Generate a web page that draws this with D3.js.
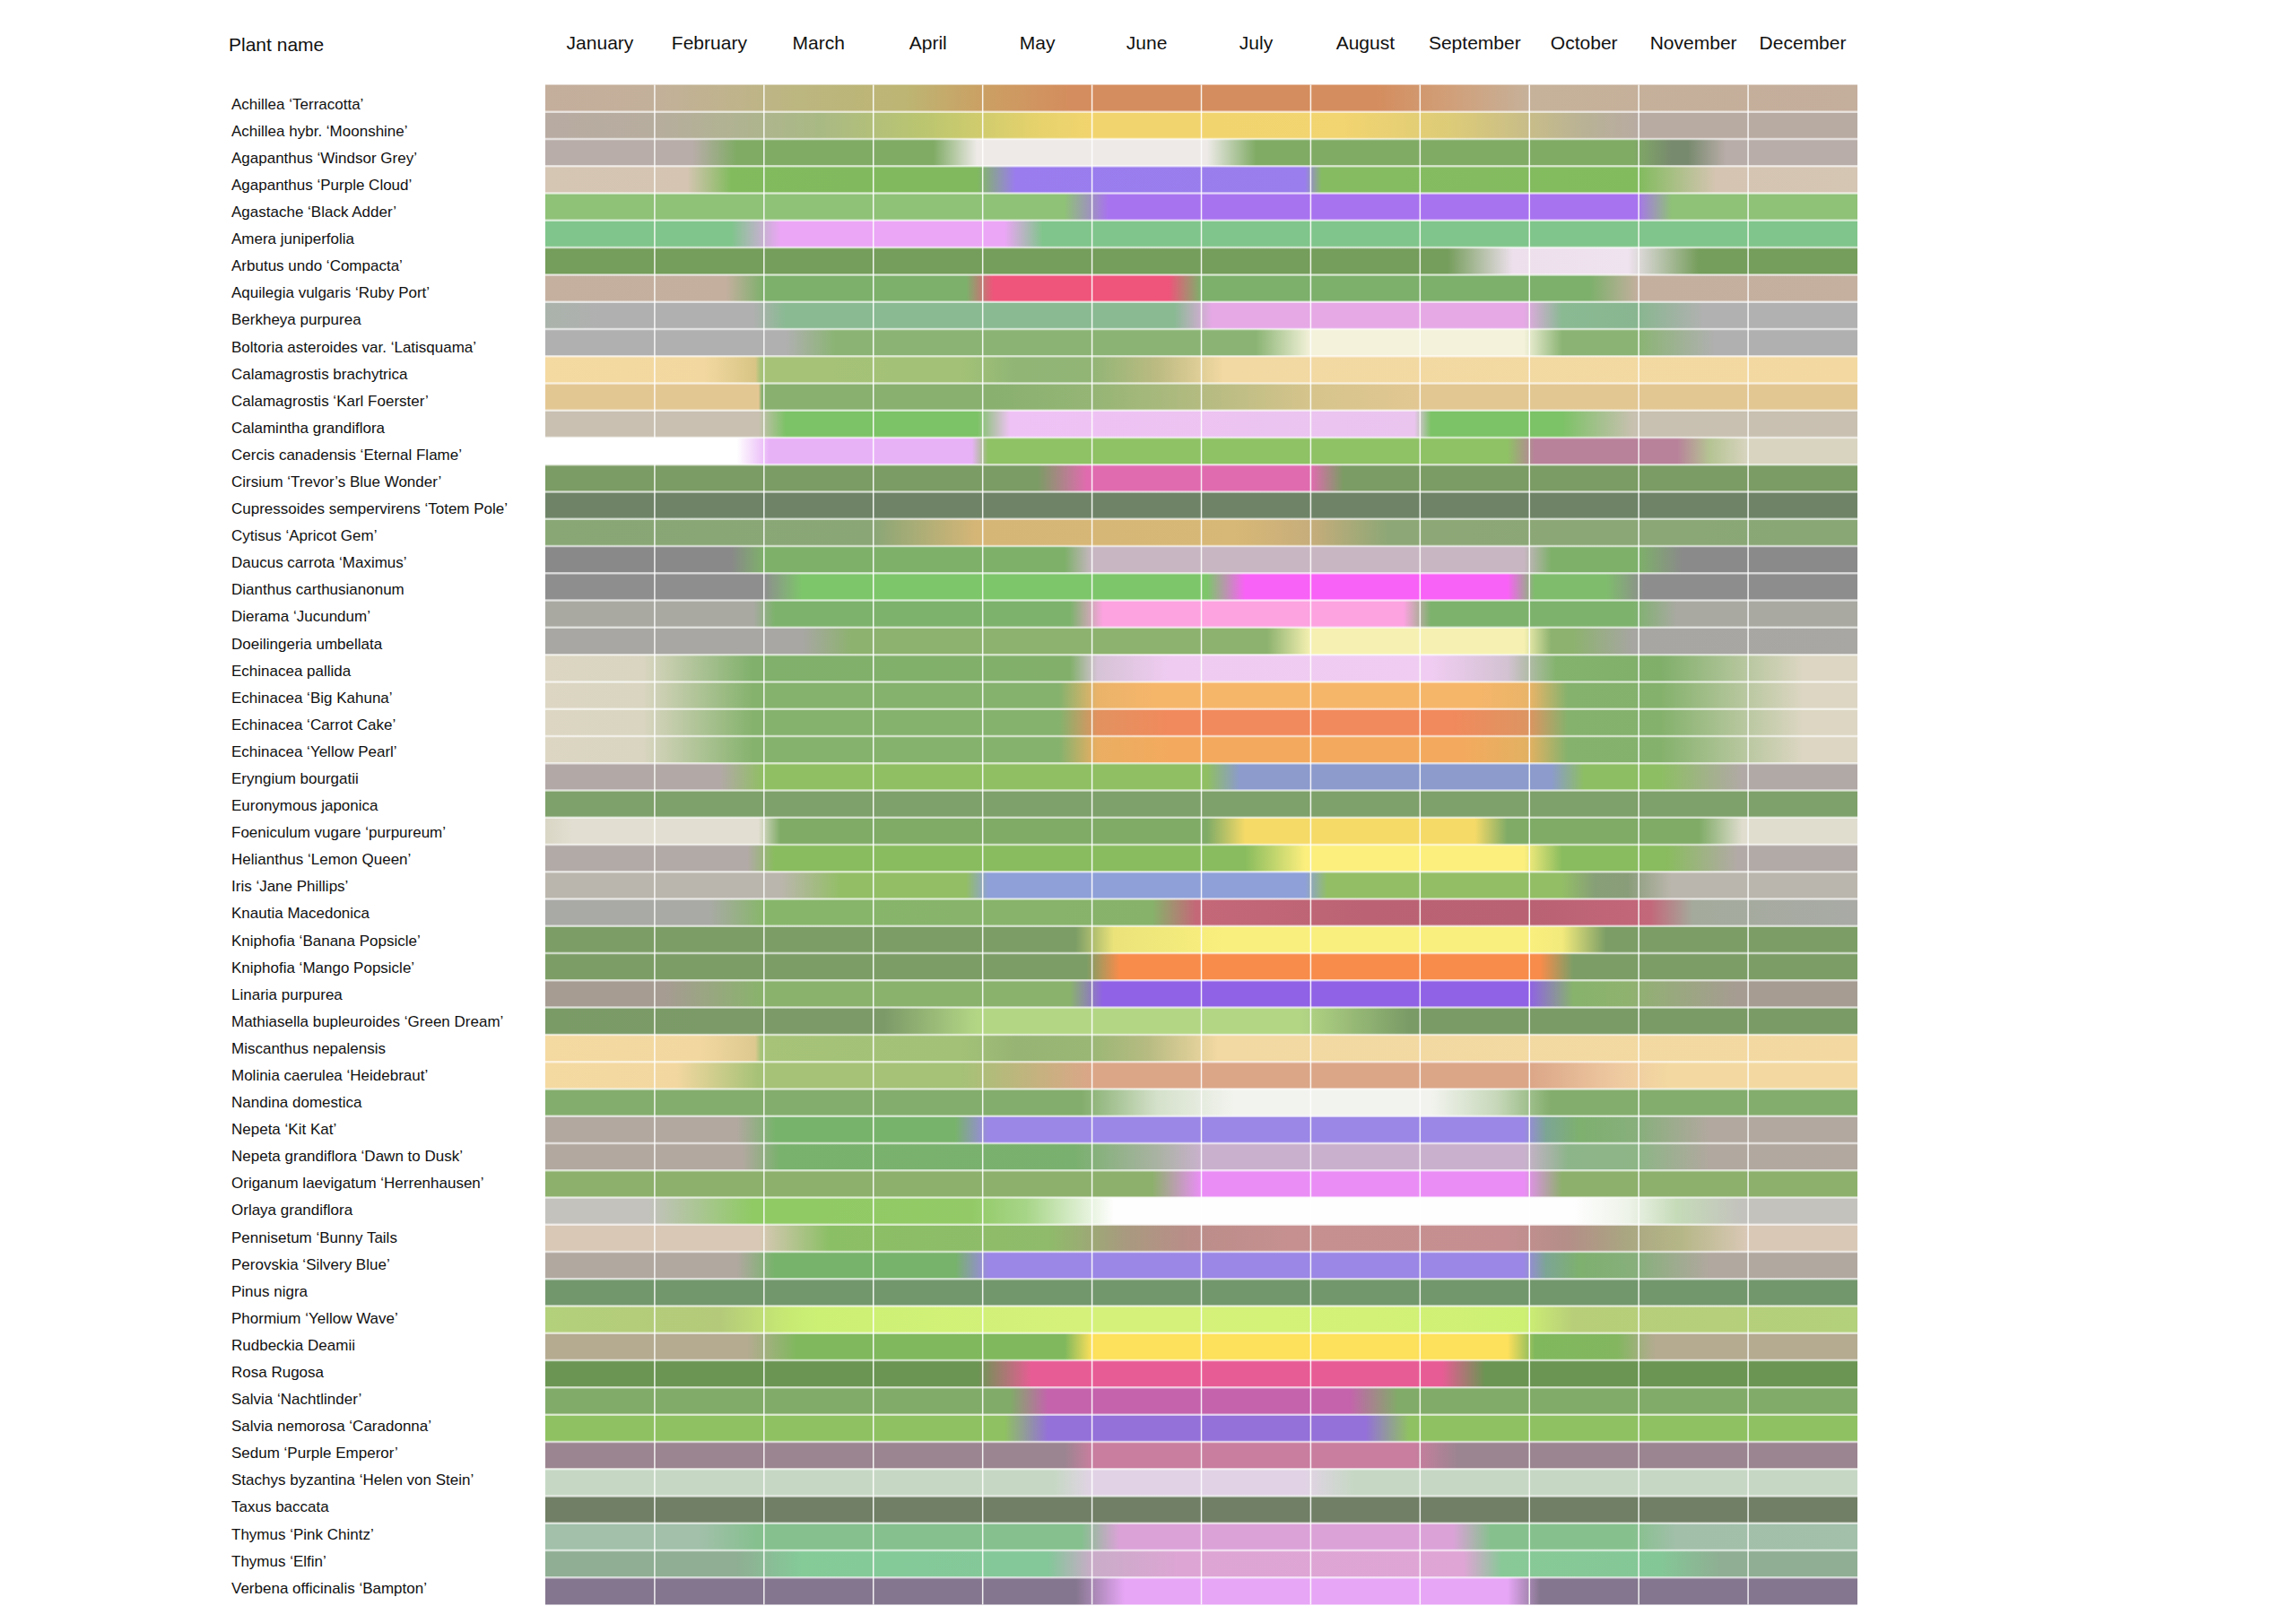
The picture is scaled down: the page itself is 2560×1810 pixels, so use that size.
<!DOCTYPE html>
<html>
<head>
<meta charset="utf-8">
<script src="https://cdn.jsdelivr.net/npm/d3@7"></script>
<style>
  body { margin: 0; background: #fff; }
  text { font-family: "Liberation Sans", Arial, sans-serif; fill: #111; }
</style>
</head>
<body>
<div id="chart"></div>
<script>
// month tick labels
var months = ["January", "February", "March", "April", "May", "June", "July",
  "August", "September", "October", "November", "December"];

// one row per plant
var plants = [
  "Achillea ‘Terracotta’", "Achillea hybr. ‘Moonshine’", "Agapanthus ‘Windsor Grey’",
  "Agapanthus ‘Purple Cloud’", "Agastache ‘Black Adder’", "Amera juniperfolia",
  "Arbutus undo ‘Compacta’", "Aquilegia vulgaris ‘Ruby Port’", "Berkheya purpurea",
  "Boltoria asteroides var. ‘Latisquama’", "Calamagrostis brachytrica", "Calamagrostis ‘Karl Foerster’",
  "Calamintha grandiflora", "Cercis canadensis ‘Eternal Flame’", "Cirsium ‘Trevor’s Blue Wonder’",
  "Cupressoides sempervirens ‘Totem Pole’", "Cytisus ‘Apricot Gem’", "Daucus carrota ‘Maximus’",
  "Dianthus carthusianonum", "Dierama ‘Jucundum’", "Doeilingeria umbellata",
  "Echinacea pallida", "Echinacea ‘Big Kahuna’", "Echinacea ‘Carrot Cake’",
  "Echinacea ‘Yellow Pearl’", "Eryngium bourgatii", "Euronymous japonica",
  "Foeniculum vugare ‘purpureum’", "Helianthus ‘Lemon Queen’", "Iris ‘Jane Phillips’",
  "Knautia Macedonica", "Kniphofia ‘Banana Popsicle’", "Kniphofia ‘Mango Popsicle’",
  "Linaria purpurea", "Mathiasella bupleuroides ‘Green Dream’", "Miscanthus nepalensis",
  "Molinia caerulea ‘Heidebraut’", "Nandina domestica", "Nepeta ‘Kit Kat’",
  "Nepeta grandiflora ‘Dawn to Dusk’", "Origanum laevigatum ‘Herrenhausen’", "Orlaya grandiflora",
  "Pennisetum ‘Bunny Tails", "Perovskia ‘Silvery Blue’", "Pinus nigra",
  "Phormium ‘Yellow Wave’", "Rudbeckia Deamii", "Rosa Rugosa",
  "Salvia ‘Nachtlinder’", "Salvia nemorosa ‘Caradonna’", "Sedum ‘Purple Emperor’",
  "Stachys byzantina ‘Helen von Stein’", "Taxus baccata", "Thymus ‘Pink Chintz’",
  "Thymus ‘Elfin’", "Verbena officinalis ‘Bampton’"
];

// colour through the year: [month position (0 = 1 Jan, 12 = 31 Dec), colour]
var seasonStops = [
  [[0,"#c4ae9c"],[1.0,"#c3b09a"],[2.3,"#bcb680"],[3.3,"#bdb573"],[4.0,"#cba064"],[4.8,"#d48d5e"],[7.6,"#d48d5e"],[8.3,"#d0a07a"],[9.0,"#c6b19a"],[12,"#c4ae9c"]],
  [[0,"#b8aba2"],[1.0,"#b7ad9e"],[2.5,"#a9b984"],[3.5,"#bcc66f"],[4.5,"#e6d26c"],[5.0,"#f2d46e"],[7.3,"#f2d470"],[8.3,"#dccb78"],[9.5,"#b9b295"],[10,"#b8aba2"],[12,"#b8aba2"]],
  [[0,"#b9ada9"],[1.35,"#b8ada8"],[1.75,"#80ab65"],[3.55,"#80ab65"],[3.95,"#eeeae8"],[6.05,"#eeeae8"],[6.5,"#80ab65"],[9.95,"#80ab65"],[10.3,"#788a6e"],[10.45,"#788a6e"],[10.8,"#b9ada9"],[12,"#b9ada9"]],
  [[0,"#d5c5b3"],[1.3,"#d4c4b1"],[1.7,"#82bb5e"],[3.95,"#80b95e"],[4.3,"#9a7cee"],[6.95,"#9a7eed"],[7.1,"#86bb62"],[10.0,"#82bb5e"],[10.7,"#d4c4b1"],[12,"#d5c5b3"]],
  [[0,"#8fc177"],[4.75,"#8fc177"],[5.15,"#a873ef"],[9.98,"#a873ef"],[10.3,"#8fc177"],[12,"#8fc177"]],
  [[0,"#80c58b"],[1.7,"#80c58b"],[2.15,"#eba6f5"],[4.2,"#eba6f5"],[4.55,"#80c58b"],[12,"#80c58b"]],
  [[0,"#759d5b"],[8.25,"#759d5b"],[8.85,"#ede0ec"],[9.9,"#efe3ef"],[10.55,"#759d5b"],[12,"#759d5b"]],
  [[0,"#c5b09f"],[1.65,"#c4af9f"],[2.0,"#7db06b"],[3.85,"#7db06b"],[4.1,"#ef547a"],[5.7,"#ef547a"],[6.0,"#7db06b"],[9.55,"#7db06b"],[10.0,"#c4af9f"],[12,"#c5b09f"]],
  [[0,"#aab3ab"],[0.5,"#b0b0b0"],[1.9,"#b0b0b0"],[2.2,"#89ba92"],[5.75,"#89ba92"],[6.1,"#e6a9e6"],[8.95,"#e6a9e6"],[9.3,"#89ba92"],[10.0,"#89b690"],[10.6,"#b1b1b1"],[12,"#b1b1b1"]],
  [[0,"#b0b0b0"],[2.2,"#b0b0b0"],[2.65,"#8bb474"],[6.5,"#8bb474"],[7.0,"#f4f2da"],[8.95,"#f4f2da"],[9.3,"#8bb474"],[10.0,"#8bb474"],[10.7,"#b0b0b0"],[12,"#b0b0b0"]],
  [[0,"#f4d9a0"],[1.45,"#f2d8a0"],[1.92,"#d8c585"],[1.97,"#a6c277"],[3.8,"#a3c277"],[4.3,"#90b575"],[5.0,"#92b576"],[5.6,"#bcbb82"],[6.2,"#f2d8a2"],[12,"#f3d9a1"]],
  [[0,"#e3c793"],[1.95,"#e3c793"],[1.98,"#89b06f"],[4.1,"#89b06f"],[5.0,"#95b575"],[6.0,"#b4bb81"],[7.0,"#d6c48c"],[8.0,"#e2c792"],[12,"#e3c793"]],
  [[0,"#c9c0b1"],[1.95,"#c9c0b1"],[2.2,"#7cc266"],[3.95,"#7cc266"],[4.25,"#efc2f5"],[7.95,"#eac5ee"],[8.1,"#7cc266"],[9.3,"#7cc266"],[9.95,"#c8c0b0"],[12,"#c9c0b1"]],
  [[0,"#ffffff"],[1.75,"#ffffff"],[2.05,"#e8b2f7"],[3.9,"#e8b2f7"],[4.05,"#8fc165"],[8.8,"#8fc165"],[9.05,"#b8829a"],[10.35,"#b8829a"],[10.65,"#b5c493"],[11.0,"#d8d4bf"],[12,"#d8d4bf"]],
  [[0,"#7b9c64"],[4.5,"#7b9c64"],[4.95,"#e06caf"],[7.0,"#e06caf"],[7.3,"#7b9c64"],[12,"#7b9c64"]],
  [[0,"#6f8467"],[12,"#6f8467"]],
  [[0,"#88a775"],[3.0,"#8aa676"],[3.95,"#d6b677"],[6.3,"#d8b876"],[7.0,"#c6ad7b"],[7.7,"#8ea776"],[12,"#88a775"]],
  [[0,"#898989"],[1.7,"#898989"],[2.0,"#7eb06a"],[4.75,"#7eb06a"],[5.0,"#c8b6c2"],[8.95,"#c8b6c2"],[9.2,"#7eb06a"],[10.0,"#7eb06a"],[10.4,"#8a8a8a"],[12,"#8a8a8a"]],
  [[0,"#8e8e8e"],[2.0,"#8e8e8e"],[2.35,"#7dc66a"],[6.05,"#7dc66a"],[6.4,"#f962f6"],[8.8,"#f962f6"],[9.05,"#7fbd6c"],[9.7,"#7fbd6c"],[10.05,"#8d8d8d"],[12,"#8d8d8d"]],
  [[0,"#a9a9a2"],[1.9,"#a9a9a2"],[2.1,"#7db26c"],[4.8,"#7db26c"],[5.1,"#fca3e0"],[7.85,"#fca3e0"],[8.1,"#7db26c"],[9.95,"#7db26c"],[10.35,"#a9a9a2"],[12,"#a9a9a2"]],
  [[0,"#a8a7a3"],[2.35,"#a8a7a3"],[2.8,"#8db26f"],[6.6,"#8db26f"],[7.0,"#f6f1b2"],[8.95,"#f6f1b2"],[9.2,"#8db26f"],[9.4,"#8db26f"],[9.95,"#a7a6a2"],[12,"#a8a7a3"]],
  [[0,"#dcd6c3"],[0.9,"#d9d5c0"],[1.9,"#80b06b"],[4.8,"#82b06b"],[5.05,"#d6c3d6"],[5.7,"#efcbf1"],[8.1,"#f0ccf2"],[8.8,"#d3c2d2"],[9.25,"#83b36d"],[10.2,"#80af6a"],[11.5,"#dcd6c2"],[12,"#dcd6c3"]],
  [[0,"#dcd6c3"],[0.9,"#d9d5c0"],[1.9,"#85b26d"],[4.7,"#85b26d"],[5.05,"#eab36a"],[5.6,"#f6b66a"],[8.5,"#f6b66a"],[9.0,"#e9b468"],[9.35,"#85b26d"],[10.2,"#84b16c"],[11.5,"#dcd6c2"],[12,"#dcd6c3"]],
  [[0,"#dcd6c3"],[0.9,"#d9d5c0"],[1.9,"#85b26d"],[4.7,"#85b26d"],[5.05,"#e2925f"],[5.7,"#f18a5d"],[8.3,"#f18a5d"],[9.0,"#dc9561"],[9.35,"#85b26d"],[10.2,"#84b16c"],[11.5,"#dcd6c2"],[12,"#dcd6c3"]],
  [[0,"#dcd6c3"],[0.9,"#d9d5c0"],[1.9,"#85b26d"],[4.7,"#85b26d"],[5.05,"#eaae62"],[5.7,"#f3aa5e"],[8.4,"#f3aa5e"],[9.0,"#e2b162"],[9.35,"#85b26d"],[10.2,"#84b16c"],[11.5,"#dcd6c2"],[12,"#dcd6c3"]],
  [[0,"#b2a9a6"],[1.6,"#b2a9a6"],[2.0,"#8fbf62"],[6.05,"#8fbf62"],[6.35,"#8c9bcc"],[9.2,"#8c9bcc"],[9.5,"#8dbe63"],[10.2,"#8dbe63"],[10.95,"#b1a9a6"],[12,"#b1a9a6"]],
  [[0,"#7ea06a"],[12,"#7ea06a"]],
  [[0,"#d9d6c5"],[0.25,"#e2ded1"],[1.95,"#e2ded1"],[2.15,"#7fab66"],[6.05,"#7fab66"],[6.4,"#f5da68"],[8.5,"#f5da68"],[8.8,"#7fab66"],[10.55,"#7fab66"],[10.95,"#e0ddcf"],[12,"#e0ddcf"]],
  [[0,"#b2aaa6"],[1.85,"#b2aaa6"],[2.1,"#89bc5e"],[6.4,"#89bc5e"],[6.95,"#fcef7e"],[8.95,"#fcef7e"],[9.3,"#89bc5e"],[10.25,"#89bc5e"],[10.9,"#b2aaa6"],[12,"#b2aaa6"]],
  [[0,"#bbb6ad"],[2.15,"#bbb6ad"],[2.7,"#93be66"],[3.85,"#93be66"],[4.05,"#8fa0d8"],[6.95,"#8fa0d8"],[7.15,"#93be66"],[9.3,"#93be66"],[9.6,"#879f77"],[9.9,"#8a9d7a"],[10.3,"#bbb6ad"],[12,"#bbb6ad"]],
  [[0,"#a9aaa6"],[1.5,"#a9aaa5"],[2.0,"#87b66a"],[5.55,"#87b26a"],[5.95,"#c46878"],[7.5,"#bb6374"],[9.0,"#b96273"],[10.1,"#c3677a"],[10.5,"#a4ab9c"],[12,"#a9aaa6"]],
  [[0,"#7c9e66"],[4.85,"#7c9e66"],[5.2,"#ebe37a"],[6.2,"#f9ef7e"],[9.0,"#f9ef7e"],[9.3,"#f2ea7c"],[9.7,"#7c9e66"],[12,"#7c9e66"]],
  [[0,"#7c9e66"],[4.95,"#7c9e66"],[5.25,"#f78c4b"],[9.1,"#f78c4b"],[9.4,"#7c9e66"],[12,"#7c9e66"]],
  [[0,"#a69c92"],[1.1,"#a69c92"],[1.95,"#8ab26d"],[4.8,"#8ab26d"],[5.1,"#9062e5"],[9.0,"#9062e5"],[9.4,"#87b36c"],[9.9,"#8fb26f"],[10.9,"#a69c92"],[12,"#a69c92"]],
  [[0,"#7a9a66"],[3.1,"#7c9a68"],[3.95,"#b3d685"],[6.9,"#b3d685"],[7.9,"#7a9b66"],[12,"#7a9b66"]],
  [[0,"#f4d9a1"],[1.4,"#f2d8a0"],[1.92,"#ddc990"],[1.97,"#a6c378"],[3.8,"#a3c277"],[4.3,"#97b474"],[5.0,"#9bb776"],[5.5,"#b6bb82"],[6.15,"#f2d8a2"],[12,"#f3d9a1"]],
  [[0,"#f4d9a1"],[1.2,"#f2d7a0"],[1.95,"#a6c276"],[3.8,"#a5c277"],[4.5,"#c5b27f"],[5.0,"#dba688"],[9.0,"#dba688"],[9.8,"#eec9a0"],[10.3,"#f3d9a1"],[12,"#f3d9a1"]],
  [[0,"#83ad6c"],[4.9,"#83ad6c"],[5.6,"#d5e1cb"],[6.3,"#f2f3ee"],[8.1,"#f2f3ee"],[8.7,"#c7d8ba"],[9.2,"#83ad6c"],[12,"#83ad6c"]],
  [[0,"#b2a8a0"],[1.75,"#b2a8a0"],[2.1,"#78b36c"],[3.75,"#78b36c"],[4.05,"#9b87e6"],[8.95,"#9b87e6"],[9.15,"#7da595"],[9.45,"#7eb06f"],[10.0,"#88af7c"],[10.65,"#b2a89f"],[12,"#b2a8a0"]],
  [[0,"#b2a8a0"],[1.8,"#b2a8a0"],[2.15,"#78b26c"],[4.85,"#7ab06f"],[5.6,"#aab3a3"],[6.0,"#c9b1cd"],[8.95,"#c9b1cd"],[9.35,"#8db58a"],[10.0,"#8db586"],[10.65,"#b1a89f"],[12,"#b2a8a0"]],
  [[0,"#8db06c"],[5.55,"#8db06c"],[6.0,"#ea8ef6"],[8.95,"#ea8ef6"],[9.3,"#8db06c"],[12,"#8db06c"]],
  [[0,"#c3c2bd"],[0.95,"#c3c2bd"],[1.9,"#8fca64"],[3.9,"#93ca67"],[4.4,"#a7d588"],[5.2,"#fefefe"],[9.4,"#fefefe"],[9.9,"#eef3e9"],[10.35,"#c5dbb8"],[10.95,"#c3c2bd"],[12,"#c3c2bd"]],
  [[0,"#d9c8b6"],[1.95,"#d9c8b6"],[2.6,"#8bbf65"],[4.6,"#8fbb6a"],[5.3,"#a89a7f"],[5.9,"#ba8d89"],[6.8,"#c69090"],[8.8,"#c58f91"],[9.35,"#b48e88"],[9.9,"#a9a781"],[10.4,"#b6b788"],[11.0,"#d9c8b6"],[12,"#d9c8b6"]],
  [[0,"#b1a8a0"],[1.75,"#b1a8a0"],[2.1,"#77b36b"],[3.75,"#77b36b"],[4.05,"#9b87e5"],[8.95,"#9b87e5"],[9.15,"#7da595"],[9.45,"#7eb06f"],[10.0,"#88af7c"],[10.65,"#b1a89f"],[12,"#b1a8a0"]],
  [[0,"#73976d"],[12,"#73976d"]],
  [[0,"#b3d07b"],[1.6,"#b4ca7a"],[2.2,"#c7e973"],[2.5,"#ccf074"],[5.0,"#d6f17a"],[7.5,"#d3f177"],[8.95,"#cdf073"],[9.4,"#b8ce79"],[12,"#b3d07b"]],
  [[0,"#b4ab91"],[1.85,"#b4ab91"],[2.3,"#80b85d"],[4.75,"#80b85d"],[5.0,"#fde05b"],[8.8,"#fde05b"],[9.05,"#80b85d"],[9.8,"#83b65f"],[10.15,"#b4ab91"],[12,"#b4ab91"]],
  [[0,"#6a9552"],[3.95,"#6a9552"],[4.45,"#e85c95"],[8.2,"#e85c95"],[8.6,"#6a9552"],[12,"#6a9552"]],
  [[0,"#81ab68"],[4.25,"#81ab68"],[4.6,"#c563ad"],[7.35,"#c563ad"],[7.8,"#81ab68"],[12,"#81ab68"]],
  [[0,"#8fc162"],[4.2,"#8fc162"],[4.6,"#9470d9"],[7.5,"#9470d9"],[7.9,"#8fc162"],[12,"#8fc162"]],
  [[0,"#9b8590"],[4.75,"#9b8590"],[5.0,"#c97e9f"],[7.95,"#c97e9f"],[8.35,"#9b8590"],[12,"#9b8590"]],
  [[0,"#c6d8c4"],[4.65,"#c6d8c4"],[5.0,"#e1d3e5"],[6.95,"#e1d3e5"],[7.4,"#c6d8c4"],[12,"#c6d8c4"]],
  [[0,"#707f65"],[12,"#707f65"]],
  [[0,"#a2c0aa"],[1.4,"#a2c0aa"],[1.95,"#85c08e"],[4.9,"#85c08e"],[5.25,"#dba2d8"],[8.3,"#dba2d8"],[8.65,"#86c18d"],[9.95,"#86c18d"],[10.35,"#a2bfaa"],[12,"#a2c0aa"]],
  [[0,"#8fae93"],[1.75,"#8fae93"],[2.35,"#84cb98"],[4.6,"#84c799"],[5.0,"#c9acc8"],[5.8,"#dda5d4"],[8.4,"#dea5d5"],[8.75,"#88c997"],[10.2,"#84c796"],[10.75,"#8fae93"],[12,"#8fae93"]],
  [[0,"#84768e"],[4.85,"#84768e"],[5.3,"#e7a6f6"],[8.8,"#e7a6f6"],[9.1,"#84768e"],[12,"#84768e"]]
];

var width = 2560, height = 1810;

var svg = d3.select("#chart").append("svg")
  .attr("width", width)
  .attr("height", height);

svg.append("rect")
  .attr("width", width)
  .attr("height", height)
  .attr("fill", "#fff");

// scales
var x = d3.scaleLinear().domain([0, 12]).range([608, 2071]);
var xMonth = d3.scaleBand().domain(months).range([x(0), x(12)]);
var y = d3.scaleBand().domain(plants).range([94.5, 1789.5]);
var labelY = d3.scalePoint().domain(plants).range([121.7, 1776.7]);

// a horizontal gradient per plant, stops placed with the month scale
var defs = svg.append("defs");
var span = x(12) - x(0);
var grads = defs.selectAll("linearGradient")
  .data(seasonStops)
  .enter().append("linearGradient")
  .attr("id", function (d, i) { return "season" + i; })
  .attr("gradientUnits", "userSpaceOnUse")
  .attr("x1", x(0)).attr("x2", x(12))
  .attr("y1", 0).attr("y2", 0);

grads.selectAll("stop")
  .data(function (d) { return d; })
  .enter().append("stop")
  .attr("offset", function (d) { return (x(d[0]) - x(0)) / span; })
  .attr("stop-color", function (d) { return d[1]; });

svg.append("g").attr("class", "rows")
  .selectAll("rect")
  .data(plants)
  .enter().append("rect")
  .attr("x", x(0))
  .attr("y", function (d) { return y(d); })
  .attr("width", span)
  .attr("height", y.bandwidth())
  .attr("fill", function (d, i) { return "url(#season" + i + ")"; });

// grid lines
svg.append("g").attr("class", "hlines")
  .selectAll("line")
  .data(plants.slice(1))
  .enter().append("line")
  .attr("x1", x(0)).attr("x2", x(12))
  .attr("y1", function (d) { return y(d); })
  .attr("y2", function (d) { return y(d); })
  .attr("stroke", "#fff")
  .attr("stroke-opacity", 0.6)
  .attr("stroke-width", 2.5);

svg.append("g").attr("class", "vlines")
  .selectAll("line")
  .data(d3.range(1, 12))
  .enter().append("line")
  .attr("x1", function (d) { return x(d); })
  .attr("x2", function (d) { return x(d); })
  .attr("y1", y.range()[0]).attr("y2", y.range()[1])
  .attr("stroke", "#fff")
  .attr("stroke-opacity", 0.9)
  .attr("stroke-width", 1.5);

// month labels
var monthAxis = d3.axisTop(xMonth).tickSize(0).tickPadding(0);
var ax = svg.append("g")
  .attr("transform", "translate(0,55)")
  .call(monthAxis);
ax.select(".domain").remove();
ax.selectAll("text")
  .attr("font-size", 21)
  .attr("font-family", "Liberation Sans, Arial, sans-serif")
  .attr("fill", "#111");

svg.append("text")
  .attr("x", 255).attr("y", 57)
  .attr("font-size", 21)
  .text("Plant name");

svg.append("g").attr("class", "labels")
  .selectAll("text")
  .data(plants)
  .enter().append("text")
  .attr("x", 258)
  .attr("y", function (d) { return labelY(d); })
  .attr("font-size", 17)
  .text(function (d) { return d; });
</script>
</body>
</html>
